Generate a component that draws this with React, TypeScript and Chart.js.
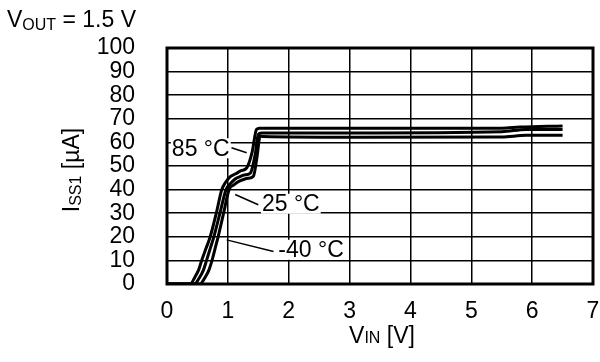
import React, { useEffect, useRef } from "react";
import { Chart, registerables } from "chart.js";

Chart.register(...registerables);

// ---- Data ----
const v85: number[] = [0, 0.38, 0.46, 0.52, 0.57, 0.64, 0.71, 0.81, 0.9, 0.96, 1.04, 1.12, 1.22, 1.31, 1.4, 1.47, 1.52, 3.0, 5.5, 5.8, 6.5];
const i85: number[] = [0, 0, 3, 6, 10, 15, 20, 30, 40, 43, 45.5, 46.6, 48, 49.2, 56, 65.5, 66, 66, 66, 66.5, 67];

const v25: number[] = [0, 0.45, 0.54, 0.6, 0.65, 0.71, 0.77, 0.87, 0.97, 1.04, 1.12, 1.2, 1.27, 1.37, 1.45, 1.5, 1.55, 3.0, 5.5, 5.9, 6.5];
const i25: number[] = [0, 0, 3, 6, 10, 15, 20, 30, 40, 42.5, 44.5, 45.5, 46.2, 47, 55, 63.4, 64, 64, 64.5, 65.5, 65.5];

const vM40: number[] = [0, 0.54, 0.63, 0.69, 0.74, 0.79, 0.84, 0.93, 1.02, 1.1, 1.18, 1.26, 1.33, 1.42, 1.48, 1.53, 1.58, 3.0, 5.5, 5.9, 6.5];
const iM40: number[] = [0, 0, 3, 6, 10, 15, 20, 30, 40, 42, 43.5, 44.3, 44.8, 45.7, 54, 62.7, 62.5, 62.2, 62.3, 63, 63];

const xTicks: number[] = [0, 1, 2, 3, 4, 5, 6, 7];
const yTicks: number[] = [0, 10, 20, 30, 40, 50, 60, 70, 80, 90, 100];

// Annotation labels (data units)
const labelTexts: string[] = ["85 °C", "25 °C", "-40 °C"];
const labelX: number[] = [0.08, 1.56, 1.83];
const labelY: number[] = [57.5, 34, 14.5];
const leaderFromX: number[] = [1.06, 1.12, 0.98];
const leaderFromY: number[] = [57.7, 37.9, 18.7];
const leaderToX: number[] = [1.31, 1.5, 1.75];
const leaderToY: number[] = [55.6, 33.6, 13.8];

const FONT = "'Liberation Sans', Arial, Helvetica, sans-serif";
const FS = 23;
const SUB = 16;

type Part = { text: string; size: number; dy: number };

function drawRich(ctx: CanvasRenderingContext2D, parts: Part[], x: number, y: number, align: "left" | "center") {
  let total = 0;
  const widths: number[] = parts.map((p) => {
    ctx.font = `${p.size}px ${FONT}`;
    const w = ctx.measureText(p.text).width;
    total += w;
    return w;
  });
  let cx = align === "center" ? x - total / 2 : x;
  ctx.textBaseline = "alphabetic";
  ctx.textAlign = "left";
  parts.forEach((p, k) => {
    ctx.font = `${p.size}px ${FONT}`;
    ctx.fillText(p.text, cx, y + p.dy);
    cx += widths[k];
  });
}

const decorPlugin = {
  id: "decor",
  afterDatasetsDraw(chart: any) {
    const { ctx, chartArea, scales } = chart;
    const xs = scales.x;
    const ys = scales.y;
    ctx.save();
    // frame
    ctx.strokeStyle = "#000";
    ctx.lineWidth = 3;
    ctx.strokeRect(chartArea.left, chartArea.top, chartArea.right - chartArea.left, chartArea.bottom - chartArea.top);

    // leader lines
    ctx.lineWidth = 1.5;
    for (let k = 0; k < labelTexts.length; k++) {
      ctx.beginPath();
      ctx.moveTo(xs.getPixelForValue(leaderFromX[k]), ys.getPixelForValue(leaderFromY[k]));
      ctx.lineTo(xs.getPixelForValue(leaderToX[k]), ys.getPixelForValue(leaderToY[k]));
      ctx.stroke();
    }
    // labels with white boxes
    ctx.font = `${FS}px ${FONT}`;
    ctx.textBaseline = "middle";
    ctx.textAlign = "left";
    for (let k = 0; k < labelTexts.length; k++) {
      const px = xs.getPixelForValue(labelX[k]);
      const py = ys.getPixelForValue(labelY[k]);
      const w = ctx.measureText(labelTexts[k]).width;
      ctx.fillStyle = "#fff";
      ctx.fillRect(px - 1, py - 10, w + 2, 20);
      ctx.fillStyle = "#000";
      ctx.fillText(labelTexts[k], px, py + 1);
    }

    // titles
    ctx.fillStyle = "#000";
    drawRich(ctx, [
      { text: "V", size: FS, dy: 0 },
      { text: "OUT", size: SUB, dy: 3 },
      { text: " = 1.5 V", size: FS, dy: 0 },
    ], 7, 27, "left");

    const midX = (chartArea.left + chartArea.right) / 2;
    drawRich(ctx, [
      { text: "V", size: FS, dy: 0 },
      { text: "IN", size: SUB, dy: 0 },
      { text: " [V]", size: FS, dy: 0 },
    ], midX + 2, chartArea.bottom + 59, "center");

    const midY = (chartArea.top + chartArea.bottom) / 2;
    ctx.translate(chartArea.left - 88, midY + 4);
    ctx.rotate(-Math.PI / 2);
    drawRich(ctx, [
      { text: "I", size: FS, dy: 0 },
      { text: "SS1", size: SUB, dy: 2 },
      { text: " [µA]", size: FS, dy: 0 },
    ], 0, 0, "center");
    ctx.restore();
  },
};

function mk(vs: number[], is: number[]) {
  return vs.map((v, k) => ({ x: v, y: is[k] }));
}

function zeroPad(s: any) {
  s.paddingLeft = 0;
  s.paddingRight = 0;
  s.paddingTop = 0;
  s.paddingBottom = 0;
}

export default function App() {
  const ref = useRef<HTMLCanvasElement | null>(null);
  useEffect(() => {
    document.body.style.margin = "0";
    const canvas = ref.current!;
    const lineDs = (label: string, data: any[]) => ({
      label,
      data,
      borderColor: "#000",
      backgroundColor: "#000",
      borderWidth: 3,
      pointRadius: 0,
      showLine: true,
      cubicInterpolationMode: "monotone" as const,
      fill: false,
    });
    const chart = new Chart(canvas, {
      type: "scatter",
      data: {
        datasets: [
          lineDs("85 °C", mk(v85, i85)),
          lineDs("25 °C", mk(v25, i25)),
          lineDs("-40 °C", mk(vM40, iM40)),
        ],
      },
      options: {
        animation: false,
        responsive: false,
        devicePixelRatio: 1,
        layout: { padding: { top: 48, right: 7, left: 0, bottom: 0 } },
        plugins: { legend: { display: false }, tooltip: { enabled: false }, title: { display: false } },
        scales: {
          x: {
            type: "linear",
            min: 0,
            max: 7,
            afterFit: (s: any) => { s.height = 78; zeroPad(s); },
            afterBuildTicks: (s: any) => { s.ticks = xTicks.map((v) => ({ value: v })); },
            grid: { color: "#000", lineWidth: 1.5, drawTicks: false },
            border: { display: false },
            ticks: { color: "#000", font: { family: FONT, size: FS }, padding: 14, maxRotation: 0, autoSkip: false },
          },
          y: {
            type: "linear",
            min: 0,
            max: 100,
            afterFit: (s: any) => { s.width = 167; zeroPad(s); },
            afterBuildTicks: (s: any) => { s.ticks = yTicks.map((v) => ({ value: v })); },
            grid: { color: "#000", lineWidth: 1.5, drawTicks: false },
            border: { display: false },
            ticks: { color: "#000", font: { family: FONT, size: FS }, padding: 32, autoSkip: false },
          },
        },
      },
      plugins: [decorPlugin],
    } as any);
    return () => chart.destroy();
  }, []);
  return (
    <div style={{ width: 600, height: 362, background: "#fff" }}>
      <canvas ref={ref} width={600} height={362} />
    </div>
  );
}
